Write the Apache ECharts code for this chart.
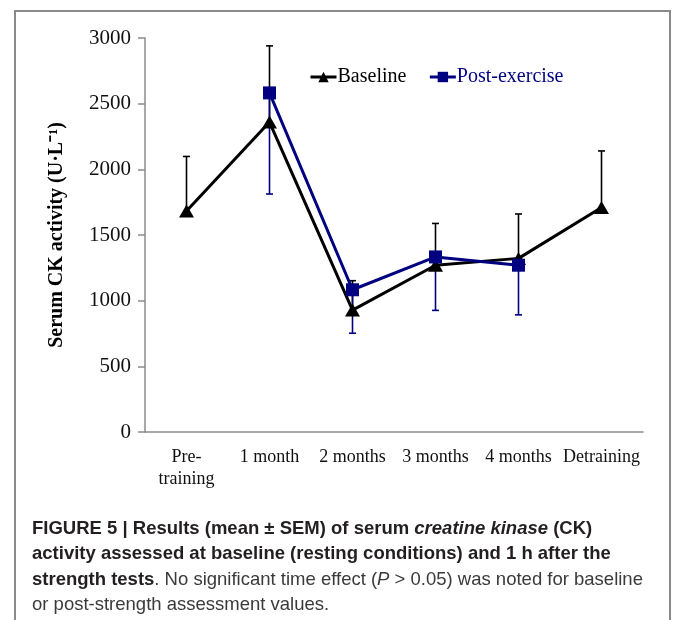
<!DOCTYPE html>
<html>
<head>
<meta charset="utf-8">
<script src="https://cdn.jsdelivr.net/npm/echarts@6/dist/echarts.min.js"></script>
<style>
html,body{margin:0;padding:0;background:#fff;}
#chart{width:673px;height:620px;}
</style>
</head>
<body>
<div id="chart"></div>
<script>
// ---- data ----
const categories = ['Pre-\ntraining', '1 month', '2 months', '3 months', '4 months', 'Detraining'];
const baseline = [1683, 2360, 928, 1270, 1322, 1710];
const baselineUpper = [2098, 2940, 1152, 1588, 1660, 2140];
const postExercise = [null, 2582, 1083, 1333, 1270, null];
const postLower = [null, 1812, 752, 926, 892, null];
const yTicks = [0, 500, 1000, 1500, 2000, 2500, 3000];

const serif = '"Liberation Serif", "Times New Roman", serif';
const sans = '"Liberation Sans", Arial, sans-serif';
const NAVY = '#000080';
const CAP = 18.5;

const chart = echarts.init(document.getElementById('chart'), null, {renderer: 'canvas'});

function errorSeries(name, lows, highs, color, capAtHigh) {
  const data = [];
  categories.forEach((c, i) => {
    if (lows[i] != null && highs[i] != null) data.push([i, lows[i], highs[i]]);
  });
  return {
    type: 'custom',
    name: name + ' error',
    silent: true,
    z: 1,
    renderItem: function (params, api) {
      const x = api.value(0);
      const a = api.coord([x, api.value(1)]);
      const b = api.coord([x, api.value(2)]);
      const end = capAtHigh ? b : a;
      const cap = 3.5;
      const st = {stroke: color, lineWidth: 1.6};
      return {
        type: 'group',
        children: [
          {type: 'line', shape: {x1: a[0], y1: a[1], x2: b[0], y2: b[1]}, style: st},
          {type: 'line', shape: {x1: end[0] - cap, y1: end[1], x2: end[0] + cap, y2: end[1]}, style: st}
        ]
      };
    },
    data: data
  };
}

const option = {
  backgroundColor: '#fff',
  animation: false,
  grid: {left: 145, right: 30, top: 38, bottom: 188, containLabel: false},
  legend: {
    left: 304, top: 62,
    itemWidth: 26, itemHeight: 13, itemGap: 22,
    lineStyle: {width: 3},
    textStyle: {fontFamily: serif, fontSize: 20, padding: [0, 0, 0, -4]},
    data: [
      {name: 'Baseline', textStyle: {color: '#000'}},
      {name: 'Post-exercise', textStyle: {color: NAVY}}
    ]
  },
  xAxis: {
    type: 'category',
    data: categories,
    boundaryGap: true,
    axisLine: {lineStyle: {color: '#8c8c8c', width: 1.5}},
    axisTick: {show: false},
    axisLabel: {fontFamily: serif, fontSize: 18, color: '#111', margin: 14, lineHeight: 22, interval: 0}
  },
  yAxis: {
    type: 'value',
    min: 0, max: 3000, interval: 500,
    name: 'Serum CK activity (U·L⁻¹)',
    nameLocation: 'middle',
    nameGap: 78,
    nameTextStyle: {fontFamily: serif, fontSize: 20, fontWeight: 'bold', color: '#000'},
    splitLine: {show: false},
    axisLine: {show: true, lineStyle: {color: '#8c8c8c', width: 1.5}},
    axisTick: {show: true, inside: false, length: 7, lineStyle: {color: '#8c8c8c', width: 1.5}},
    axisLabel: {fontFamily: serif, fontSize: 21, color: '#111', margin: 14,
      formatter: function (v) { return yTicks.indexOf(v) >= 0 ? String(v) : ''; }}
  },
  series: [
    errorSeries('Baseline', baseline, baselineUpper, '#000', true),
    errorSeries('Post-exercise', postLower, postExercise, NAVY, false),
    {
      name: 'Baseline', type: 'line', data: baseline, z: 3,
      symbol: 'triangle', symbolSize: [15, 13],
      lineStyle: {color: '#000', width: 3},
      itemStyle: {color: '#000'}
    },
    {
      name: 'Post-exercise', type: 'line', data: postExercise, z: 4,
      symbol: 'rect', symbolSize: 13,
      lineStyle: {color: NAVY, width: 3},
      itemStyle: {color: NAVY}
    }
  ],
  graphic: [
    {type: 'rect', z: 0, shape: {x: 15, y: 11, width: 655, height: 640},
     style: {fill: 'none', stroke: '#8a8a8a', lineWidth: 2}},
    {type: 'text', left: 32, top: 519, style: {
      text: '{b|FIGURE 5 | Results (mean ± SEM) of serum }{bi|creatine kinase}{b| (CK)}',
      rich: {
        b: {fontFamily: sans, fontSize: CAP, fontWeight: 'bold', fill: '#231f20'},
        bi: {fontFamily: sans, fontSize: CAP, fontWeight: 'bold', fontStyle: 'italic', fill: '#231f20'}
      }}},
    {type: 'text', left: 32, top: 544, style: {
      text: '{b|activity assessed at baseline (resting conditions) and 1 h after the}',
      rich: {b: {fontFamily: sans, fontSize: CAP, fontWeight: 'bold', fill: '#231f20'}}}},
    {type: 'text', left: 32, top: 570, style: {
      text: '{b|strength tests}{r|. No significant time effect (}{i|P}{r| > 0.05) was noted for baseline}',
      rich: {
        b: {fontFamily: sans, fontSize: CAP, fontWeight: 'bold', fill: '#231f20'},
        r: {fontFamily: sans, fontSize: CAP, fill: '#3a3a3a'},
        i: {fontFamily: sans, fontSize: CAP, fontStyle: 'italic', fill: '#3a3a3a'}
      }}},
    {type: 'text', left: 32, top: 595, style: {
      text: '{r|or post-strength assessment values.}',
      rich: {r: {fontFamily: sans, fontSize: CAP, fill: '#3a3a3a'}}}}
  ]
};
chart.setOption(option);
</script>
</body>
</html>
